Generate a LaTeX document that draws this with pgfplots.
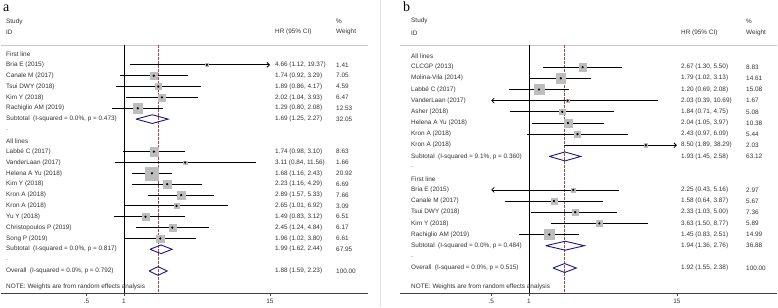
\documentclass[border=0pt]{standalone}
\usepackage{fontspec}
\setmainfont{Liberation Sans}
\newfontfamily\serifab{Liberation Serif}
\usepackage{pgfplots}
\usepackage{pgfplotstable}
\pgfplotsset{compat=1.18}
\usetikzlibrary{arrows.meta}
\definecolor{boxgray}{gray}{0.74}
\definecolor{dia}{RGB}{25,25,130}
\definecolor{refred}{RGB}{170,70,70}
\definecolor{txt}{gray}{0.2}
\newcommand\fsz{\fontsize{6.4bp}{7.6bp}\selectfont}

% panel a: row, HR, weight
\pgfplotstableread{
row est w
2 4.66 1.41
3 1.74 7.05
4 1.89 4.59
5 2.02 6.47
6 1.29 12.53
10 1.74 8.63
11 3.11 1.66
12 1.68 20.92
13 2.23 6.69
14 2.89 7.66
15 2.65 3.09
16 1.49 6.51
17 2.45 6.17
18 1.96 6.61
}\studA

% panel b: row, HR, weight
\pgfplotstableread{
row est w
2 2.67 8.83
3 1.79 14.61
4 1.20 15.08
5 2.03 1.67
6 1.84 5.08
7 2.04 10.38
8 2.43 5.44
9 8.50 2.03
13 2.25 2.97
14 1.58 5.67
15 2.33 7.36
16 3.63 5.89
17 1.45 14.99
}\studB

\tikzset{
  myci/.style={black, line width=0.8bp},
  myarr/.style={black, line width=0.8bp, -{Straight Barb[length=2.5bp,width=5bp]}},
  mydmd/.style={dia, line width=0.9bp},
  lbl/.style={anchor=west, inner sep=0pt, font=\fsz, text=txt}}
\newcommand\ent[4]{\node[lbl] at (axis cs:\lxx,#1) {#2};\node[lbl] at (axis cs:\hxx,#1) {#3};\node[lbl] at (axis cs:\wxx,#1) {#4};}

\begin{document}
\begin{tikzpicture}[x=1bp,y=1bp]
\path[use as bounding box] (0,0) rectangle (778,-307);
\draw[black!12, line width=0.6bp] (380,0) -- (380,-307);
\node[anchor=base west, inner sep=0pt, font=\serifab\fontsize{14bp}{16bp}\selectfont] at (3,-11) {a};
\node[anchor=base west, inner sep=0pt, font=\serifab\fontsize{14bp}{16bp}\selectfont] at (403,-11) {b};

% ---------------- panel a ----------------
\def\lxx{0.112}\def\hxx{16.47}\def\wxx{51.1}
\begin{axis}[scale only axis, width=367bp, height=248bp,
  xmode=log, y dir=reverse, clip=false,
  at={(184.5bp,-169bp)}, anchor=center,
  xmin=0.1021, xmax=92.47, ymin=0.1705, ymax=23.03,
  axis y line=none, axis x line*=bottom,
  x axis line style={black!75, line width=0.6bp, -},
  xtick={0.5,1,15}, xticklabels={.5,1,15}, ytick=\empty,
  tick style={black!75, line width=0.5bp}, major tick length=3bp, tick align=outside,
  tick label style={font=\fsz, text=txt}]
\draw[black!22, line width=0.6bp] (axis cs:0.1021,0.1705) -- (axis cs:92.47,0.1705);
\addplot[black, line width=0.8bp, forget plot] coordinates {(1,0.1705) (1,23.03)};
\addplot[refred, line width=0.55bp, dash pattern=on 2.5bp off 1.5bp, forget plot] coordinates {(1.88,0.1705) (1.88,23.03)};
\addplot[scatter, only marks, mark=square*, color=boxgray, forget plot,
  mark options={draw=boxgray, fill=boxgray},
  scatter/use mapped color={draw=boxgray, fill=boxgray},
  visualization depends on={1.4*sqrt(\thisrow{w}) \as \msz},
  scatter/@pre marker code/.append style={/tikz/mark size=\msz}]
  table[x=est, y=row] {\studA};
\addplot[myarr, forget plot] coordinates {(1.12,2) (15,2)}; % upper 19.37
\addplot[myci, forget plot] coordinates {(0.92,3) (3.29,3)};
\addplot[myci, forget plot] coordinates {(0.86,4) (4.17,4)};
\addplot[myci, forget plot] coordinates {(1.04,5) (3.93,5)};
\addplot[myci, forget plot] coordinates {(0.80,6) (2.08,6)};
\addplot[myci, forget plot] coordinates {(0.98,10) (3.10,10)};
\addplot[myci, forget plot] coordinates {(0.84,11) (11.56,11)};
\addplot[myci, forget plot] coordinates {(1.16,12) (2.43,12)};
\addplot[myci, forget plot] coordinates {(1.16,13) (4.29,13)};
\addplot[myci, forget plot] coordinates {(1.57,14) (5.33,14)};
\addplot[myci, forget plot] coordinates {(1.01,15) (6.92,15)};
\addplot[myci, forget plot] coordinates {(0.83,16) (3.12,16)};
\addplot[myci, forget plot] coordinates {(1.24,17) (4.84,17)};
\addplot[myci, forget plot] coordinates {(1.02,18) (3.80,18)};
\addplot[only marks, mark=*, mark size=0.9bp, black, forget plot] table[x=est, y=row] {\studA};
\addplot[mydmd, forget plot] coordinates {(1.25,7) (1.69,6.6) (2.27,7) (1.69,7.4) (1.25,7)};
\addplot[mydmd, forget plot] coordinates {(1.62,19) (1.99,18.6) (2.44,19) (1.99,19.4) (1.62,19)};
\addplot[mydmd, forget plot] coordinates {(1.59,21) (1.88,20.6) (2.23,21) (1.88,21.4) (1.59,21)};
\ent{-2}{Study}{}{\%}
\ent{-1}{ID}{HR (95\% CI)}{Weight}
\ent{1}{First line}{}{}
\ent{2}{Bria E (2015)}{4.66 (1.12, 19.37)}{1.41}
\ent{3}{Canale M (2017)}{1.74 (0.92, 3.29)}{7.05}
\ent{4}{Tsui DWY (2018)}{1.89 (0.86, 4.17)}{4.59}
\ent{5}{Kim Y (2018)}{2.02 (1.04, 3.93)}{6.47}
\ent{6}{Rachiglio AM (2019)}{1.29 (0.80, 2.08)}{12.53}
\ent{7}{Subtotal\hspace{0.55em}(I-squared = 0.0\%, p = 0.473)}{1.69 (1.25, 2.27)}{32.05}
\ent{8}{.}{}{}
\ent{9}{All lines}{}{}
\ent{10}{Labbé C (2017)}{1.74 (0.98, 3.10)}{8.63}
\ent{11}{VanderLaan (2017)}{3.11 (0.84, 11.56)}{1.66}
\ent{12}{Helena A Yu (2018)}{1.68 (1.16, 2.43)}{20.92}
\ent{13}{Kim Y (2018)}{2.23 (1.16, 4.29)}{6.69}
\ent{14}{Kron A (2018)}{2.89 (1.57, 5.33)}{7.66}
\ent{15}{Kron A (2018)}{2.65 (1.01, 6.92)}{3.09}
\ent{16}{Yu Y (2018)}{1.49 (0.83, 3.12)}{6.51}
\ent{17}{Christopoulos P (2019)}{2.45 (1.24, 4.84)}{6.17}
\ent{18}{Song P (2019)}{1.96 (1.02, 3.80)}{6.61}
\ent{19}{Subtotal\hspace{0.55em}(I-squared = 0.0\%, p = 0.817)}{1.99 (1.62, 2.44)}{67.95}
\ent{20}{.}{}{}
\ent{21}{Overall\hspace{0.55em}(I-squared = 0.0\%, p = 0.792)}{1.88 (1.59, 2.23)}{100.00}
\node[lbl] at (axis cs:\lxx,22.47) {NOTE: Weights are from random effects analysis};
\end{axis}

% ---------------- panel b ----------------
\def\lxx{0.1152}\def\hxx{16.18}\def\wxx{53.2}
\begin{axis}[scale only axis, width=377bp, height=248bp,
  xmode=log, y dir=reverse, clip=false,
  at={(588.5bp,-169bp)}, anchor=center,
  xmin=0.09418, xmax=93.89, ymin=0.0143, ymax=22.24,
  axis y line=none, axis x line*=bottom,
  x axis line style={black!75, line width=0.6bp, -},
  xtick={0.5,1,15}, xticklabels={.5,1,15}, ytick=\empty,
  tick style={black!75, line width=0.5bp}, major tick length=3bp, tick align=outside,
  tick label style={font=\fsz, text=txt}]
\draw[black!22, line width=0.6bp] (axis cs:0.09418,0.0143) -- (axis cs:93.89,0.0143);
\addplot[black, line width=0.8bp, forget plot] coordinates {(1,0.0143) (1,22.24)};
\addplot[refred, line width=0.55bp, dash pattern=on 2.5bp off 1.5bp, forget plot] coordinates {(1.92,0.0143) (1.92,22.24)};
\addplot[scatter, only marks, mark=square*, color=boxgray, forget plot,
  mark options={draw=boxgray, fill=boxgray},
  scatter/use mapped color={draw=boxgray, fill=boxgray},
  visualization depends on={1.27*sqrt(\thisrow{w}) \as \msz},
  scatter/@pre marker code/.append style={/tikz/mark size=\msz}]
  table[x=est, y=row] {\studB};
\addplot[myci, forget plot] coordinates {(1.30,2) (5.50,2)};
\addplot[myci, forget plot] coordinates {(1.02,3) (3.13,3)};
\addplot[myci, forget plot] coordinates {(0.69,4) (2.08,4)};
\addplot[myarr, forget plot] coordinates {(10.69,5) (0.5,5)}; % lower 0.39
\addplot[myci, forget plot] coordinates {(0.71,6) (4.75,6)};
\addplot[myci, forget plot] coordinates {(1.05,7) (3.97,7)};
\addplot[myci, forget plot] coordinates {(0.97,8) (6.09,8)};
\addplot[myarr, forget plot] coordinates {(1.89,9) (15,9)}; % upper 38.29
\addplot[myarr, forget plot] coordinates {(5.16,13) (0.5,13)}; % lower 0.43
\addplot[myci, forget plot] coordinates {(0.64,14) (3.87,14)};
\addplot[myci, forget plot] coordinates {(1.03,15) (5.00,15)};
\addplot[myci, forget plot] coordinates {(1.50,16) (8.77,16)};
\addplot[myci, forget plot] coordinates {(0.83,17) (2.51,17)};
\addplot[only marks, mark=*, mark size=0.9bp, black, forget plot] table[x=est, y=row] {\studB};
\addplot[mydmd, forget plot] coordinates {(1.45,10) (1.93,9.6) (2.58,10) (1.93,10.4) (1.45,10)};
\addplot[mydmd, forget plot] coordinates {(1.36,18) (1.94,17.6) (2.76,18) (1.94,18.4) (1.36,18)};
\addplot[mydmd, forget plot] coordinates {(1.55,20) (1.92,19.6) (2.38,20) (1.92,20.4) (1.55,20)};
\ent{-2.14}{Study}{}{\%}
\ent{-1.06}{ID}{HR (95\% CI)}{Weight}
\ent{1}{All lines}{}{}
\ent{2}{CLCGP (2013)}{2.67 (1.30, 5.50)}{8.83}
\ent{3}{Molina-Vila (2014)}{1.79 (1.02, 3.13)}{14.61}
\ent{4}{Labbé C (2017)}{1.20 (0.69, 2.08)}{15.08}
\ent{5}{VanderLaan (2017)}{2.03 (0.39, 10.69)}{1.67}
\ent{6}{Asher (2018)}{1.84 (0.71, 4.75)}{5.08}
\ent{7}{Helena A Yu (2018)}{2.04 (1.05, 3.97)}{10.38}
\ent{8}{Kron A (2018)}{2.43 (0.97, 6.09)}{5.44}
\ent{9}{Kron A (2018)}{8.50 (1.89, 38.29)}{2.03}
\ent{10}{Subtotal\hspace{0.55em}(I-squared = 9.1\%, p = 0.360)}{1.93 (1.45, 2.58)}{63.12}
\ent{11}{.}{}{}
\ent{12}{First line}{}{}
\ent{13}{Bria E (2015)}{2.25 (0.43, 5.16)}{2.97}
\ent{14}{Canale M (2017)}{1.58 (0.64, 3.87)}{5.67}
\ent{15}{Tsui DWY (2018)}{2.33 (1.03, 5.00)}{7.36}
\ent{16}{Kim Y (2018)}{3.63 (1.50, 8.77)}{5.89}
\ent{17}{Rachiglio AM (2019)}{1.45 (0.83, 2.51)}{14.99}
\ent{18}{Subtotal\hspace{0.55em}(I-squared = 0.0\%, p = 0.484)}{1.94 (1.36, 2.76)}{36.88}
\ent{19}{.}{}{}
\ent{20}{Overall\hspace{0.55em}(I-squared = 0.0\%, p = 0.515)}{1.92 (1.55, 2.38)}{100.00}
\node[lbl] at (axis cs:\lxx,21.7) {NOTE: Weights are from random effects analysis};
\end{axis}
\end{tikzpicture}
\end{document}
